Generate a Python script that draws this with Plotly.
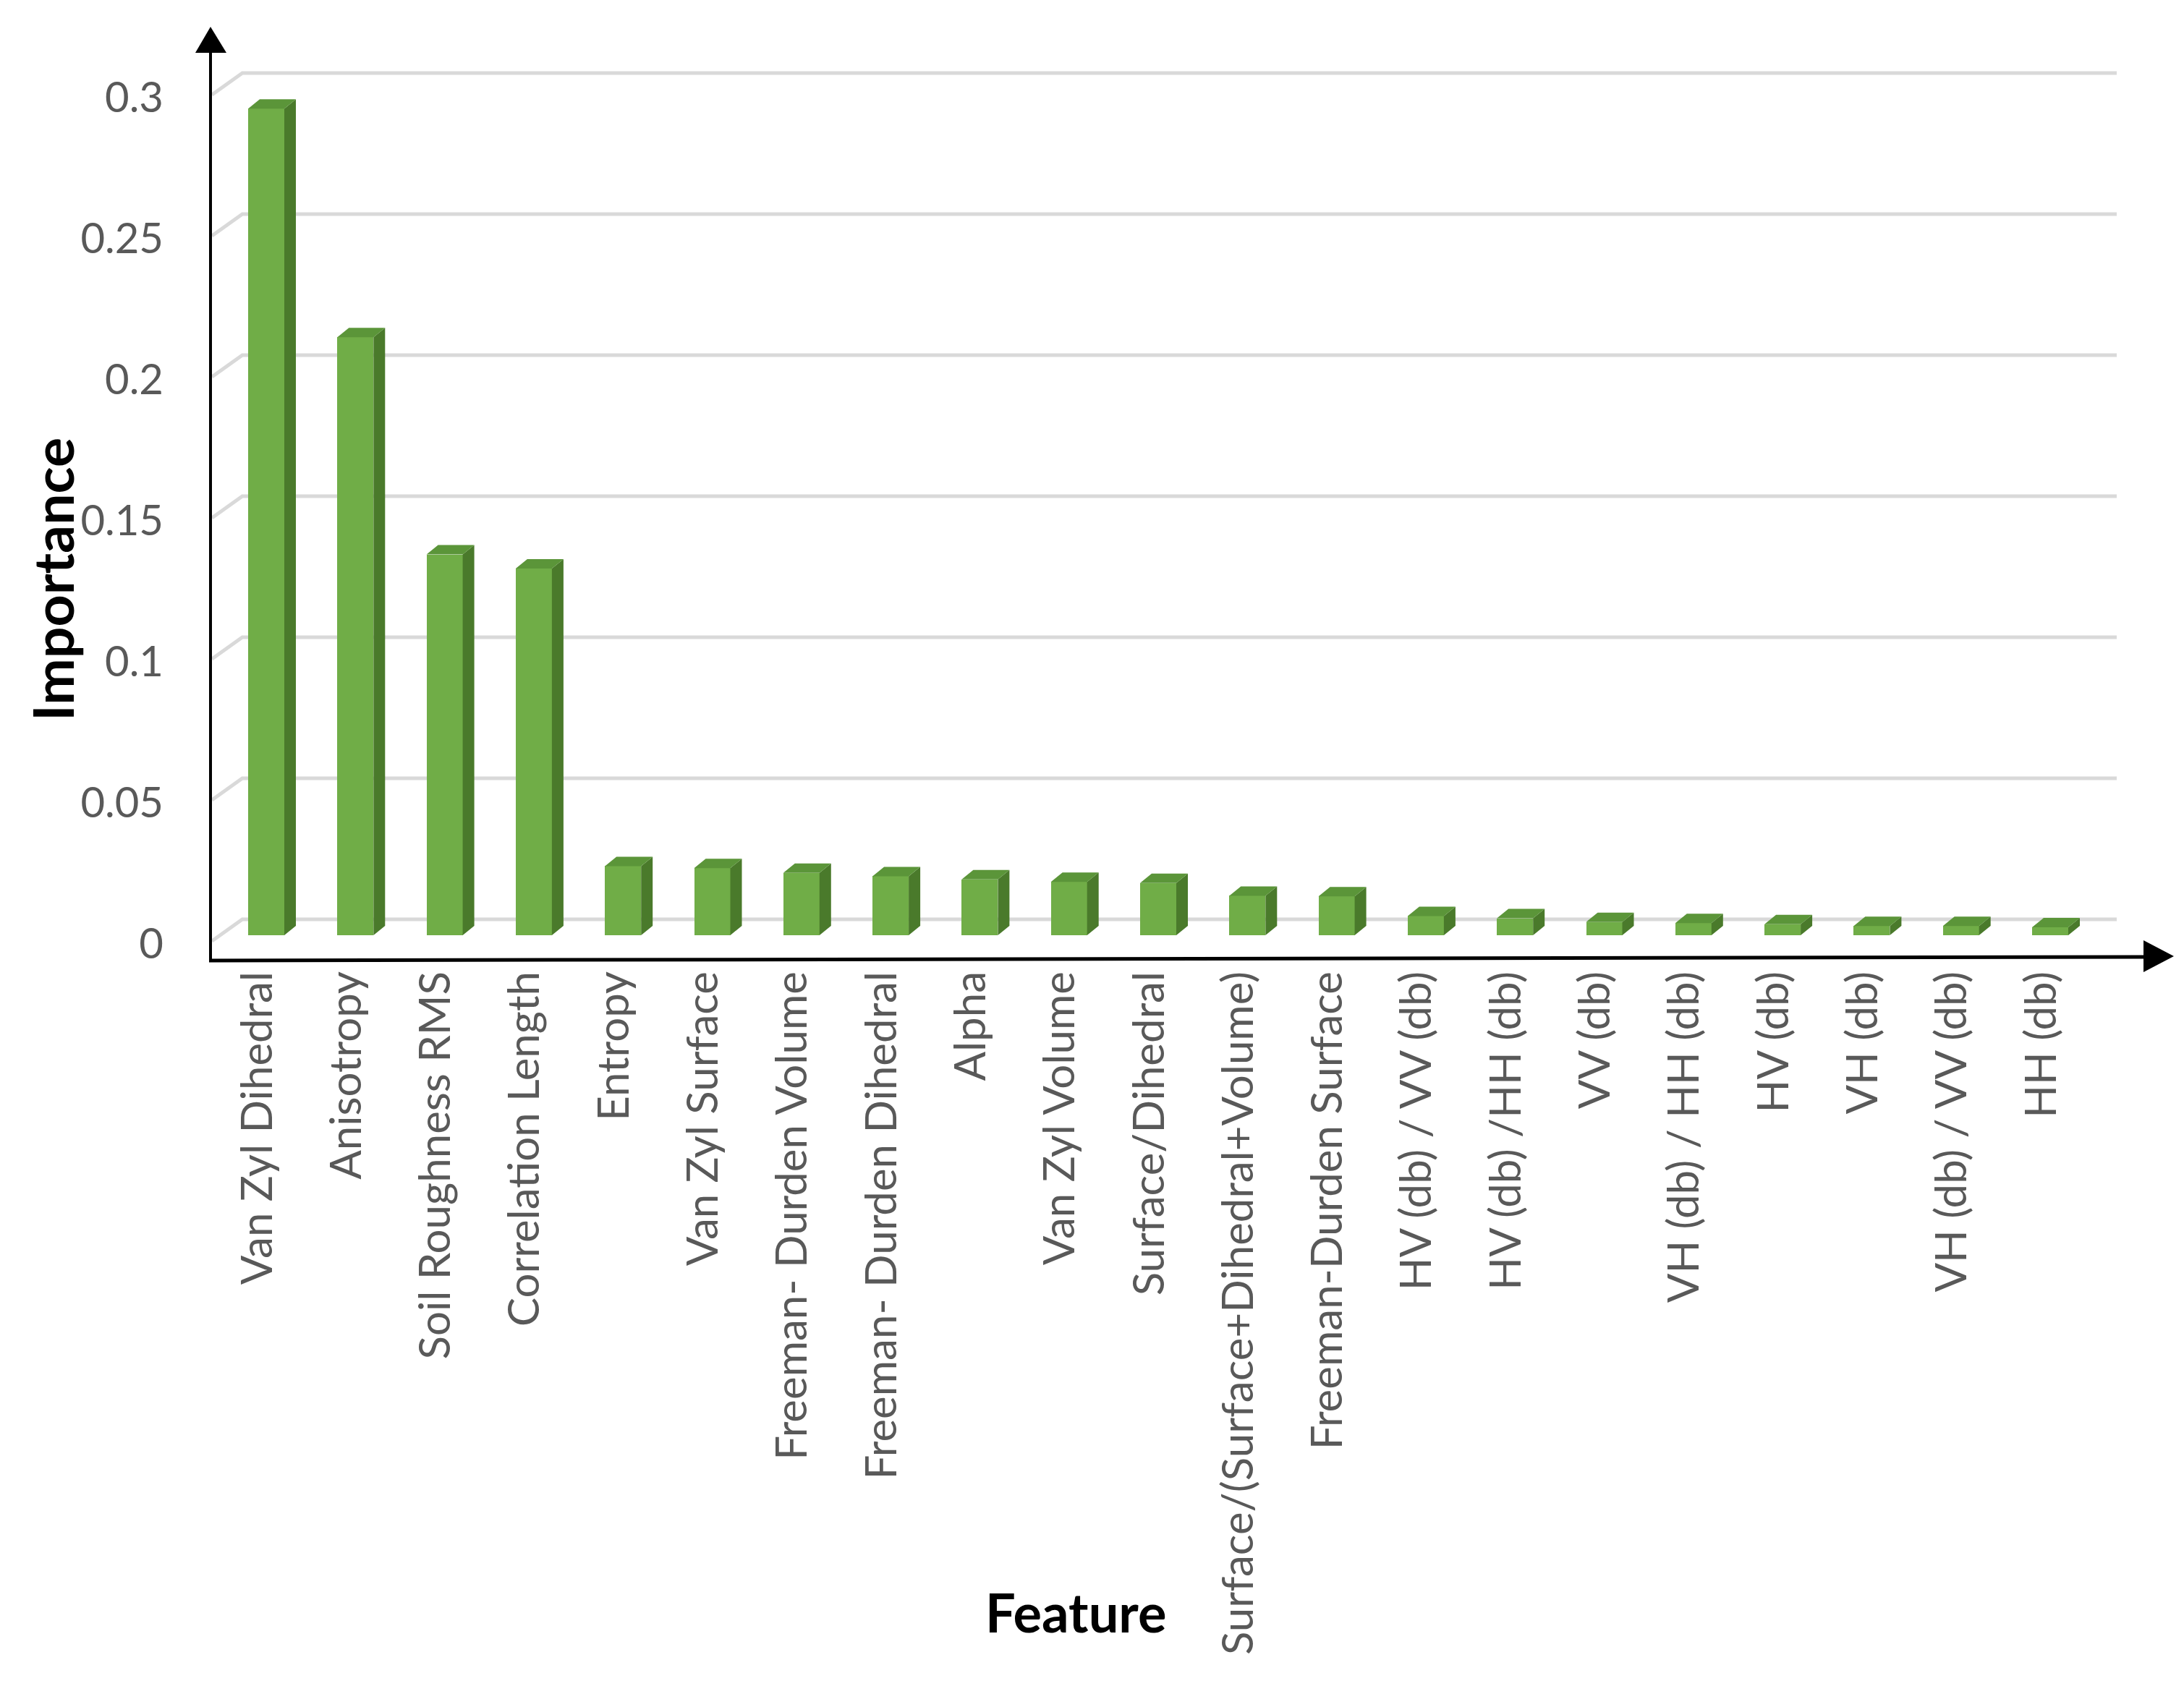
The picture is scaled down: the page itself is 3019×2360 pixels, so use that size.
import plotly.graph_objects as go

# ---------------- data ----------------
categories = [
    "Van Zyl Dihedral", "Anisotropy", "Soil Roughness RMS", "Correlation Length",
    "Entropy", "Van Zyl Surface", "Freeman- Durden Volume", "Freeman- Durden Dihedral",
    "Alpha", "Van Zyl Volume", "Surface/Dihedral", "Surface/(Surface+Dihedral+Volume)",
    "Freeman-Durden Surface", "HV (db) / VV (db)", "HV (db) /HH (db)", "VV (db)",
    "VH (db) / HH (db)", "HV (db)", "VH (db)", "VH (db) / VV (db)", "HH (db)",
]
importance = [
    0.293, 0.212, 0.135, 0.130,
    0.0245, 0.0238, 0.0221, 0.0209,
    0.0198, 0.0189, 0.0185, 0.0140,
    0.0138, 0.0068, 0.0060, 0.0047,
    0.0043, 0.0039, 0.0033, 0.0033, 0.0028,
]
y_ticks = [0, 0.05, 0.1, 0.15, 0.2, 0.25, 0.3]

# ---------------- geometry (pixels) ----------------
W, H = 3019, 2360
L, R, T, B = 283, 22, 29, 1040
plot_w = W - L - R
plot_h = H - T - B
PX_PER_UNIT_X = 123.3          # pixels per category step
PX_PER_UNIT_Y = 3900.0         # pixels per 1.0 importance
X0_PX = 360                    # pixel of first bar centre
Y0_PX = 1285                   # pixel of value 0 at the bar front plane

x_min = (L - X0_PX) / PX_PER_UNIT_X
x_max = (W - R - X0_PX) / PX_PER_UNIT_X
y_min = -((H - B) - Y0_PX) / PX_PER_UNIT_Y
y_max = (Y0_PX - T) / PX_PER_UNIT_Y

bar_w = 50 / PX_PER_UNIT_X
dx = 16 / PX_PER_UNIT_X
dy = 13 / PX_PER_UNIT_Y

FRONT = "#70AD47"
SIDE = "#4A7A2B"
TOP = "#5B9539"


def px2paper_x(px):
    return (px - L) / plot_w


def px2paper_y(py):
    return ((H - B) - py) / plot_h


fig = go.Figure()

xs = list(range(len(categories)))

# front faces
fig.add_trace(go.Bar(x=xs, y=importance, width=bar_w,
                     marker=dict(color=FRONT, line=dict(width=0)),
                     showlegend=False))

# side and top faces derived from the values
sx, sy, tx, ty = [], [], [], []
for i, v in zip(xs, importance):
    xl = i - bar_w / 2
    xr = i + bar_w / 2
    sx += [xr, xr + dx, xr + dx, xr, xr, None]
    sy += [0, dy, v + dy, v, 0, None]
    tx += [xl, xl + dx, xr + dx, xr, xl, None]
    ty += [v, v + dy, v + dy, v, v, None]
fig.add_trace(go.Scatter(x=sx, y=sy, mode="lines", fill="toself",
                         fillcolor=SIDE, line=dict(width=0, color=SIDE),
                         hoverinfo="skip", showlegend=False))
fig.add_trace(go.Scatter(x=tx, y=ty, mode="lines", fill="toself",
                         fillcolor=TOP, line=dict(width=0, color=TOP),
                         hoverinfo="skip", showlegend=False))

shapes = []
# back-wall gridlines with left-wall diagonal (behind the bars)
wall_front_off = -8 / PX_PER_UNIT_Y
wall_back_off = 22 / PX_PER_UNIT_Y
xf = (285 - X0_PX) / PX_PER_UNIT_X
xb = (327 - X0_PX) / PX_PER_UNIT_X
xe = (2918 - X0_PX) / PX_PER_UNIT_X
for v in y_ticks:
    shapes.append(dict(
        type="path", xref="x", yref="y", layer="below",
        path="M {} {} L {} {} L {} {}".format(
            xf, v + wall_front_off, xb, v + wall_back_off, xe, v + wall_back_off),
        line=dict(color="#D9D9D9", width=5)))

# axis lines with arrowheads
shapes += [
    dict(type="line", xref="paper", yref="paper",
         x0=px2paper_x(283), y0=px2paper_y(1322), x1=px2paper_x(283), y1=px2paper_y(60),
         line=dict(color="black", width=4)),
    dict(type="line", xref="paper", yref="paper",
         x0=px2paper_x(281), y0=px2paper_y(1320), x1=px2paper_x(2960), y1=px2paper_y(1315),
         line=dict(color="black", width=5)),
    dict(type="path", xref="paper", yref="paper",
         path="M {} {} L {} {} L {} {} Z".format(
             px2paper_x(262), px2paper_y(65), px2paper_x(283), px2paper_y(29),
             px2paper_x(305), px2paper_y(65)),
         fillcolor="black", line=dict(width=0)),
    dict(type="path", xref="paper", yref="paper",
         path="M {} {} L {} {} L {} {} Z".format(
             px2paper_x(2955), px2paper_y(1292), px2paper_x(2997), px2paper_y(1314),
             px2paper_x(2955), px2paper_y(1336)),
         fillcolor="black", line=dict(width=0)),
]

annotations = [
    dict(text="<b>Importance</b>", xref="paper", yref="paper",
         x=px2paper_x(64), y=px2paper_y(793), textangle=-90, showarrow=False,
         xanchor="center", yanchor="middle",
         font=dict(family="Lato", size=77, color="black")),
    dict(text="<b>Feature</b>", xref="paper", yref="paper",
         x=px2paper_x(1479), y=px2paper_y(2220), showarrow=False,
         xanchor="center", yanchor="middle",
         font=dict(family="Lato", size=74, color="black")),
]

fig.update_layout(
    width=W, height=H,
    margin=dict(l=L, r=R, t=T, b=B, pad=0),
    paper_bgcolor="white", plot_bgcolor="white",
    bargap=0, shapes=shapes, annotations=annotations,
    font=dict(family="Lato", color="#595959"),
    xaxis=dict(range=[x_min, x_max], tickmode="array", tickvals=xs,
               ticktext=categories, tickangle=-90, showgrid=False,
               zeroline=False, showline=False, ticks="",
               tickfont=dict(family="Lato", size=60, color="#595959"),
               ticklabelstandoff=2, ticklabelshift=-12, fixedrange=True),
    yaxis=dict(range=[y_min, y_max], tickmode="array", tickvals=y_ticks,
               showgrid=False, zeroline=False, showline=False, ticks="",
               tickfont=dict(family="Lato", size=58, color="#595959"),
               ticklabelstandoff=64, ticklabelshift=12, fixedrange=True),
)

fig.write_html("out.html")
